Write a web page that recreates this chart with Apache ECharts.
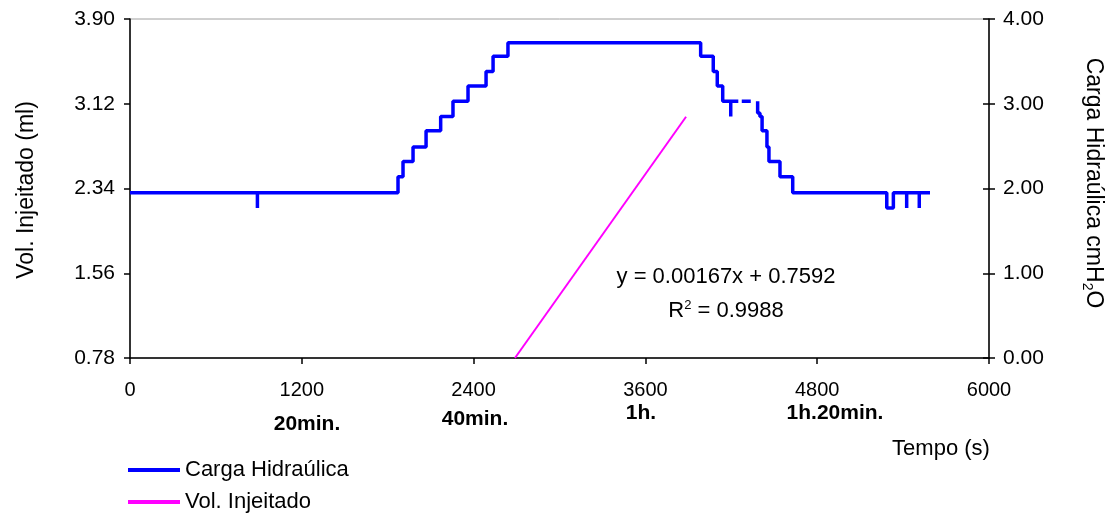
<!DOCTYPE html>
<html>
<head>
<meta charset="utf-8">
<title>Carga Hidraúlica e Vol. Injeitado</title>
<script src="https://cdn.jsdelivr.net/npm/echarts@6/dist/echarts.min.js"></script>
<style>
  html, body { margin: 0; padding: 0; background: #fff; }
  #chart { width: 1114px; height: 518px; }
</style>
</head>
<body>
<div id="chart"></div>
<script>
// Time axis (s) and its ticks
const timeTicks = [0, 1200, 2400, 3600, 4800, 6000];
const volTicks = [0.78, 1.56, 2.34, 3.12, 3.90];
const headTicks = [0, 1, 2, 3, 4];

// Hydraulic head (cmH2O): [time s, level]; each level holds until the next point.
// null entries are gaps in the record.
const cargaTempo = [0, 890, 890, 1872, 1907, 1977, 2068, 2170, 2256, 2361, 2487, 2536, 2640,
  3986, 4074, 4102, 4140, 4196, 4196, 4249, 4249, 4273, 4336, 4336, 4384, 4384, 4400, 4415, 4449,
  4463, 4540, 4629, 5286, 5332, 5425, 5425, 5513, 5513, 5588];
const cargaValor = [1.95, 1.77, 1.95, 2.14, 2.32, 2.49, 2.68, 2.85, 3.03, 3.21, 3.38, 3.56, 3.72,
  3.56, 3.38, 3.21, 3.03, 2.85, 3.03, 3.03, null, 3.03, 3.03, null, 3.03, 2.89, 2.85, 2.68, 2.49,
  2.32, 2.14, 1.95, 1.77, 1.95, 1.77, 1.95, 1.77, 1.95, 1.95];

// Injected volume (ml), linear trend
const volTempo = [2689, 3884];
const volValor = [0.78, 3.00];

const equacao = 'y = 0.00167x + 0.7592';
const r2 = '0.9988';
const marcos = ['20min.', '40min.', '1h.', '1h.20min.'];

const cargaData = cargaTempo.map((t, i) => [t, cargaValor[i]]);
const volData = volTempo.map((t, i) => [t, volValor[i]]);

const FONT = '"Liberation Sans", Arial, sans-serif';
const axisLine = { show: true, lineStyle: { color: '#000', width: 1.5 } };
const tickStyle = { color: '#000', width: 1.5 };

const chart = echarts.init(document.getElementById('chart'));
chart.setOption({
  animation: false,
  grid: { left: 130, right: 125, top: 19, bottom: 160, show: true,
          borderColor: '#a0a0a0', borderWidth: 1, backgroundColor: 'transparent' },
  legend: {
    orient: 'vertical', left: 128, top: 459, padding: 0, itemGap: 10,
    itemWidth: 52, itemHeight: 4, icon: 'rect',
    textStyle: { fontFamily: FONT, fontSize: 22, color: '#000', lineHeight: 22 },
    data: ['Carga Hidraúlica', 'Vol. Injeitado']
  },
  xAxis: {
    type: 'value', min: timeTicks[0], max: timeTicks[timeTicks.length - 1], interval: 1200,
    axisLine: axisLine,
    axisTick: { show: true, length: 6, lineStyle: tickStyle },
    axisLabel: { fontFamily: FONT, fontSize: 20, color: '#000', margin: 22,
                 formatter: v => String(v) },
    splitLine: { show: false }
  },
  yAxis: [
    {
      type: 'value', position: 'left', min: volTicks[0], max: volTicks[volTicks.length - 1], interval: 0.78,
      axisLine: axisLine,
      axisTick: { show: true, length: 6, lineStyle: tickStyle },
      axisLabel: { fontFamily: FONT, fontSize: 21, color: '#000', margin: 15,
                   formatter: v => v.toFixed(2) },
      splitLine: { show: false }
    },
    {
      type: 'value', position: 'right', min: headTicks[0], max: headTicks[headTicks.length - 1], interval: 1,
      axisLine: axisLine,
      axisTick: { show: true, length: 6, lineStyle: tickStyle },
      axisLabel: { fontFamily: FONT, fontSize: 21, color: '#000', margin: 14,
                   formatter: v => v.toFixed(2) },
      splitLine: { show: false }
    },
    {
      // inner half of the right-hand ticks
      type: 'value', position: 'right', min: headTicks[0], max: headTicks[headTicks.length - 1], interval: 1,
      axisLine: { show: false },
      axisTick: { show: true, inside: true, length: 6, lineStyle: tickStyle },
      axisLabel: { show: false },
      splitLine: { show: false }
    }
  ],
  series: [
    {
      name: 'Carga Hidraúlica', type: 'line', yAxisIndex: 1, step: 'end',
      data: cargaData, showSymbol: false, connectNulls: false,
      lineStyle: { color: '#0000ff', width: 3.5 }, itemStyle: { color: '#0000ff' },
      z: 3
    },
    {
      name: 'Vol. Injeitado', type: 'line', yAxisIndex: 0,
      data: volData, showSymbol: false,
      lineStyle: { color: '#ff00ff', width: 2 }, itemStyle: { color: '#ff00ff' },
      z: 2
    }
  ],
  graphic: [
    { type: 'text', x: 27, y: 190, rotation: Math.PI / 2,
      style: { text: 'Vol. Injeitado (ml)', font: '23px ' + FONT, fill: '#000',
               align: 'center', verticalAlign: 'middle' } },
    { type: 'text', x: 1093, y: 183, rotation: -Math.PI / 2,
      style: { text: '{a|Carga Hidraúlica cmH}{s|2}{a|O}', fill: '#000',
               align: 'center', verticalAlign: 'middle',
               rich: { a: { fontFamily: FONT, fontSize: 23, lineHeight: 24, fill: '#000' },
                       s: { fontFamily: FONT, fontSize: 14, lineHeight: 14, padding: [12, 0, 0, 0], fill: '#000' } } } },
    { type: 'text', x: 941, y: 449,
      style: { text: 'Tempo (s)', font: '22px ' + FONT, fill: '#000',
               align: 'center', verticalAlign: 'middle' } },
    { type: 'text', x: 726, y: 277,
      style: { text: equacao, font: '22px ' + FONT, fill: '#000',
               align: 'center', verticalAlign: 'middle' } },
    { type: 'text', x: 726, y: 311,
      style: { text: '{a|R}{s|2}{a| = ' + r2 + '}', fill: '#000',
               align: 'center', verticalAlign: 'middle',
               rich: { a: { fontFamily: FONT, fontSize: 22, lineHeight: 22, fill: '#000' },
                       s: { fontFamily: FONT, fontSize: 13, lineHeight: 13, padding: [0, 0, 11, 0], fill: '#000' } } } },
    { type: 'text', x: 307, y: 424,
      style: { text: marcos[0], font: 'bold 21px ' + FONT, fill: '#000', align: 'center', verticalAlign: 'middle' } },
    { type: 'text', x: 475, y: 419,
      style: { text: marcos[1], font: 'bold 21px ' + FONT, fill: '#000', align: 'center', verticalAlign: 'middle' } },
    { type: 'text', x: 641, y: 413,
      style: { text: marcos[2], font: 'bold 21px ' + FONT, fill: '#000', align: 'center', verticalAlign: 'middle' } },
    { type: 'text', x: 835, y: 413,
      style: { text: marcos[3], font: 'bold 21px ' + FONT, fill: '#000', align: 'center', verticalAlign: 'middle' } }
  ]
});
</script>
</body>
</html>
